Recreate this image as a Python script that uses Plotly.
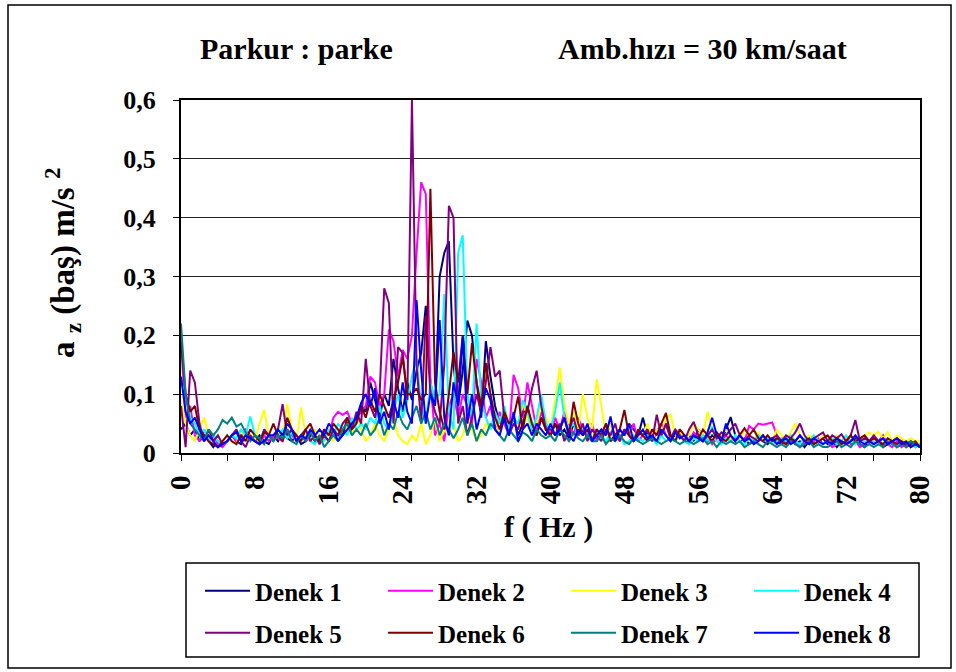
import plotly.graph_objects as go

# Frequency bins (Hz), 0.5 Hz resolution from 0 to 80 Hz
freq = [i * 0.5 for i in range(161)]

series_names = ["Denek 1", "Denek 2", "Denek 3", "Denek 4",
                "Denek 5", "Denek 6", "Denek 7", "Denek 8"]
series_colors = ["#000080", "#FF00FF", "#FFFF00", "#00FFFF",
                 "#800080", "#800000", "#008080", "#0000FF"]

denek1 = [
    0.04, 0.05, 0.03, 0.04, 0.02, 0.03, 0.02, 0.01, 0.02, 0.015,
    0.02, 0.03, 0.02, 0.015, 0.03, 0.025, 0.02, 0.03, 0.02, 0.015,
    0.03, 0.02, 0.035, 0.025, 0.02, 0.03, 0.015, 0.02, 0.03, 0.02,
    0.025, 0.03, 0.02, 0.035, 0.03, 0.04, 0.05, 0.035, 0.06, 0.08,
    0.07, 0.12, 0.09, 0.06, 0.1, 0.08, 0.16, 0.11, 0.07, 0.12,
    0.09, 0.14, 0.17, 0.25, 0.12, 0.08, 0.3, 0.34, 0.36, 0.15,
    0.08, 0.14, 0.225, 0.2, 0.12, 0.06, 0.19, 0.13, 0.08, 0.05,
    0.07, 0.04, 0.06, 0.03, 0.05, 0.08, 0.04, 0.03, 0.06, 0.04,
    0.03, 0.05, 0.03, 0.04, 0.025, 0.05, 0.03, 0.04, 0.03, 0.02,
    0.04, 0.03, 0.05, 0.02, 0.03, 0.04, 0.03, 0.05, 0.04, 0.03,
    0.06, 0.03, 0.02, 0.04, 0.03, 0.05, 0.025, 0.03, 0.04, 0.02,
    0.03, 0.02, 0.04, 0.03, 0.02, 0.03, 0.025, 0.02, 0.04, 0.061,
    0.03, 0.02, 0.025, 0.015, 0.02, 0.03, 0.02, 0.015, 0.025, 0.02,
    0.015, 0.02, 0.025, 0.015, 0.02, 0.01, 0.02, 0.015, 0.02, 0.025,
    0.015, 0.02, 0.01, 0.02, 0.015, 0.02, 0.025, 0.015, 0.01, 0.02,
    0.015, 0.02, 0.01, 0.015, 0.02, 0.01, 0.015, 0.02, 0.01, 0.015,
    0.01,
]

denek2 = [
    0.19, 0.06, 0.08, 0.03, 0.02, 0.04, 0.02, 0.03, 0.015, 0.01,
    0.02, 0.03, 0.02, 0.025, 0.04, 0.03, 0.02, 0.015, 0.03, 0.02,
    0.03, 0.025, 0.02, 0.04, 0.03, 0.02, 0.03, 0.02, 0.025, 0.03,
    0.02, 0.04, 0.03, 0.06, 0.07, 0.065, 0.07, 0.05, 0.06, 0.07,
    0.08, 0.13, 0.12, 0.08, 0.1, 0.21, 0.19, 0.13, 0.175, 0.16,
    0.2, 0.34, 0.46, 0.44, 0.12, 0.03, 0.05, 0.02, 0.08, 0.1,
    0.06, 0.1, 0.08, 0.05, 0.16, 0.12, 0.06, 0.08, 0.04, 0.07,
    0.05, 0.03, 0.133, 0.11, 0.06, 0.12, 0.08, 0.04, 0.07, 0.05,
    0.03, 0.06, 0.04, 0.07, 0.05, 0.03, 0.06, 0.04, 0.03, 0.05,
    0.02, 0.04, 0.03, 0.05, 0.03, 0.02, 0.04, 0.03, 0.05, 0.02,
    0.03, 0.04, 0.02, 0.035, 0.05, 0.03, 0.02, 0.04, 0.025, 0.03,
    0.02, 0.035, 0.025, 0.02, 0.03, 0.015, 0.025, 0.02, 0.03, 0.02,
    0.025, 0.03, 0.02, 0.046, 0.04, 0.05, 0.048, 0.05, 0.052, 0.03,
    0.02, 0.015, 0.025, 0.02, 0.01, 0.02, 0.015, 0.02, 0.025, 0.015,
    0.02, 0.01, 0.015, 0.02, 0.025, 0.015, 0.02, 0.01, 0.015, 0.02,
    0.025, 0.02, 0.03, 0.015, 0.01, 0.02, 0.01, 0.015, 0.02, 0.01,
    0.015,
]

denek3 = [
    0.09, 0.05, 0.03, 0.02, 0.04, 0.06, 0.03, 0.02, 0.01, 0.02,
    0.03, 0.02, 0.015, 0.04, 0.025, 0.03, 0.02, 0.05, 0.073, 0.03,
    0.02, 0.04, 0.03, 0.083, 0.04, 0.02, 0.077, 0.03, 0.02, 0.04,
    0.03, 0.02, 0.035, 0.02, 0.04, 0.03, 0.05, 0.03, 0.07, 0.04,
    0.02, 0.03, 0.05, 0.03, 0.02, 0.04, 0.06, 0.03, 0.02, 0.015,
    0.03, 0.02, 0.05, 0.015, 0.03, 0.06, 0.02, 0.04, 0.03, 0.05,
    0.02, 0.03, 0.06, 0.04, 0.02, 0.03, 0.05, 0.04, 0.06, 0.03,
    0.079, 0.05, 0.06, 0.04, 0.087, 0.06, 0.03, 0.05, 0.08, 0.06,
    0.04, 0.09, 0.145, 0.08, 0.05, 0.07, 0.04, 0.1, 0.06, 0.04,
    0.125, 0.08, 0.03, 0.05, 0.02, 0.04, 0.03, 0.05, 0.02, 0.04,
    0.03, 0.05, 0.02, 0.04, 0.03, 0.06, 0.065, 0.03, 0.04, 0.02,
    0.03, 0.05, 0.04, 0.03, 0.07, 0.04, 0.02, 0.03, 0.04, 0.02,
    0.03, 0.02, 0.04, 0.03, 0.02, 0.035, 0.025, 0.03, 0.02, 0.04,
    0.03, 0.02, 0.035, 0.05, 0.03, 0.02, 0.03, 0.025, 0.02, 0.03,
    0.025, 0.02, 0.03, 0.02, 0.025, 0.03, 0.02, 0.025, 0.03, 0.035,
    0.03, 0.036, 0.025, 0.035, 0.02, 0.03, 0.025, 0.02, 0.025, 0.02,
    0.02,
]

denek4 = [
    0.12, 0.1, 0.06, 0.05, 0.03, 0.04, 0.02, 0.03, 0.02, 0.015,
    0.02, 0.03, 0.025, 0.04, 0.03, 0.062, 0.03, 0.02, 0.04, 0.03,
    0.02, 0.03, 0.04, 0.025, 0.035, 0.02, 0.03, 0.04, 0.02, 0.015,
    0.03, 0.02, 0.04, 0.03, 0.05, 0.04, 0.03, 0.06, 0.04, 0.05,
    0.04, 0.06, 0.05, 0.08, 0.05, 0.04, 0.07, 0.1, 0.06, 0.09,
    0.13, 0.16, 0.08, 0.05, 0.12, 0.09, 0.1, 0.27, 0.07, 0.04,
    0.34, 0.37, 0.1, 0.06, 0.22, 0.09, 0.06, 0.04, 0.07, 0.05,
    0.08, 0.04, 0.06, 0.05, 0.09, 0.07, 0.04, 0.06, 0.1, 0.05,
    0.04, 0.07, 0.12, 0.06, 0.04, 0.05, 0.03, 0.045, 0.03, 0.02,
    0.04, 0.03, 0.02, 0.035, 0.025, 0.03, 0.015, 0.02, 0.03, 0.025,
    0.02, 0.03, 0.025, 0.015, 0.03, 0.02, 0.025, 0.02, 0.03, 0.02,
    0.015, 0.025, 0.02, 0.03, 0.02, 0.045, 0.02, 0.015, 0.025, 0.02,
    0.03, 0.02, 0.015, 0.025, 0.02, 0.03, 0.02, 0.025, 0.015, 0.02,
    0.025, 0.02, 0.03, 0.02, 0.015, 0.025, 0.02, 0.03, 0.02, 0.015,
    0.02, 0.025, 0.015, 0.02, 0.03, 0.02, 0.015, 0.025, 0.02, 0.015,
    0.02, 0.015, 0.025, 0.02, 0.015, 0.01, 0.02, 0.015, 0.02, 0.01,
    0.015,
]

denek5 = [
    0.08, 0.01, 0.14, 0.12, 0.05, 0.02, 0.04, 0.02, 0.03, 0.015,
    0.02, 0.03, 0.04, 0.02, 0.01, 0.03, 0.02, 0.015, 0.04, 0.03,
    0.02, 0.04, 0.083, 0.03, 0.04, 0.02, 0.03, 0.04, 0.02, 0.03,
    0.015, 0.03, 0.02, 0.04, 0.03, 0.05, 0.06, 0.04, 0.07, 0.05,
    0.16, 0.08, 0.06, 0.1, 0.28, 0.255, 0.05, 0.18, 0.17, 0.09,
    0.6, 0.15, 0.05, 0.233, 0.1, 0.07, 0.05, 0.15, 0.42, 0.4,
    0.05, 0.08, 0.03, 0.06, 0.1, 0.07, 0.12, 0.18, 0.13, 0.14,
    0.06, 0.03, 0.05, 0.04, 0.07, 0.07, 0.11, 0.14, 0.08, 0.04,
    0.04, 0.03, 0.05, 0.02, 0.04, 0.06, 0.03, 0.05, 0.02, 0.04,
    0.03, 0.02, 0.04, 0.03, 0.05, 0.02, 0.04, 0.03, 0.02, 0.035,
    0.03, 0.04, 0.02, 0.065, 0.03, 0.05, 0.025, 0.04, 0.03, 0.02,
    0.04, 0.053, 0.03, 0.02, 0.03, 0.04, 0.025, 0.035, 0.03, 0.04,
    0.05, 0.03, 0.02, 0.03, 0.025, 0.02, 0.03, 0.02, 0.025, 0.03,
    0.02, 0.03, 0.025, 0.035, 0.05, 0.03, 0.02, 0.025, 0.03, 0.035,
    0.02, 0.03, 0.025, 0.032, 0.02, 0.03, 0.056, 0.02, 0.025, 0.02,
    0.03, 0.02, 0.025, 0.015, 0.02, 0.025, 0.02, 0.015, 0.02, 0.015,
    0.01,
]

denek6 = [
    0.19, 0.1, 0.07, 0.08, 0.04, 0.03, 0.02, 0.015, 0.01, 0.02,
    0.03, 0.02, 0.015, 0.03, 0.02, 0.04, 0.03, 0.02, 0.035, 0.03,
    0.05, 0.03, 0.02, 0.06, 0.04, 0.03, 0.02, 0.04, 0.05, 0.03,
    0.02, 0.04, 0.03, 0.05, 0.04, 0.03, 0.06, 0.04, 0.05, 0.08,
    0.06, 0.09, 0.07, 0.1, 0.08, 0.06, 0.09, 0.12, 0.163, 0.1,
    0.1, 0.11, 0.09, 0.1, 0.449, 0.12, 0.07, 0.04, 0.1, 0.172,
    0.12, 0.2, 0.1, 0.187, 0.12, 0.08, 0.153, 0.1, 0.06, 0.04,
    0.07, 0.05, 0.06, 0.096, 0.04, 0.08, 0.05, 0.03, 0.06, 0.04,
    0.03, 0.05, 0.04, 0.06, 0.03, 0.087, 0.05, 0.03, 0.04, 0.02,
    0.04, 0.03, 0.05, 0.02, 0.03, 0.04, 0.073, 0.03, 0.02, 0.04,
    0.03, 0.02, 0.04, 0.03, 0.05, 0.068, 0.03, 0.02, 0.04, 0.03,
    0.02, 0.03, 0.025, 0.04, 0.03, 0.02, 0.035, 0.025, 0.02, 0.03,
    0.02, 0.03, 0.042, 0.03, 0.04, 0.025, 0.02, 0.03, 0.02, 0.025,
    0.02, 0.015, 0.025, 0.02, 0.03, 0.02, 0.025, 0.015, 0.02, 0.025,
    0.03, 0.02, 0.025, 0.015, 0.02, 0.03, 0.02, 0.025, 0.03, 0.02,
    0.025, 0.02, 0.015, 0.025, 0.02, 0.015, 0.02, 0.01, 0.015, 0.02,
    0.01,
]

denek7 = [
    0.22, 0.1, 0.05, 0.04, 0.03, 0.02, 0.04, 0.03, 0.04, 0.056,
    0.05, 0.06, 0.045, 0.05, 0.035, 0.02, 0.03, 0.025, 0.015, 0.03,
    0.02, 0.03, 0.025, 0.04, 0.02, 0.015, 0.03, 0.02, 0.035, 0.02,
    0.03, 0.01, 0.02, 0.03, 0.02, 0.04, 0.05, 0.03, 0.04, 0.03,
    0.05, 0.03, 0.04, 0.06, 0.03, 0.05, 0.04, 0.07, 0.05, 0.04,
    0.06, 0.08, 0.05, 0.07, 0.04, 0.06, 0.03, 0.05, 0.04, 0.025,
    0.04, 0.06, 0.03, 0.05, 0.02, 0.04, 0.03, 0.05, 0.04, 0.03,
    0.02, 0.04, 0.03, 0.02, 0.035, 0.03, 0.02, 0.04, 0.03, 0.025,
    0.03, 0.02, 0.04, 0.03, 0.02, 0.035, 0.025, 0.02, 0.03, 0.02,
    0.02, 0.03, 0.015, 0.025, 0.02, 0.03, 0.02, 0.015, 0.025, 0.02,
    0.015, 0.02, 0.025, 0.02, 0.015, 0.02, 0.025, 0.02, 0.015, 0.02,
    0.02, 0.015, 0.02, 0.025, 0.015, 0.02, 0.01, 0.02, 0.015, 0.02,
    0.015, 0.02, 0.01, 0.015, 0.02, 0.015, 0.01, 0.02, 0.015, 0.01,
    0.015, 0.01, 0.02, 0.015, 0.01, 0.015, 0.02, 0.01, 0.015, 0.01,
    0.01, 0.015, 0.02, 0.01, 0.015, 0.01, 0.02, 0.015, 0.01, 0.015,
    0.01, 0.015, 0.01, 0.02, 0.015, 0.01, 0.015, 0.01, 0.02, 0.015,
    0.01,
]

denek8 = [
    0.13, 0.07, 0.05, 0.06, 0.04, 0.02, 0.03, 0.02, 0.01, 0.015,
    0.02, 0.03, 0.035, 0.02, 0.03, 0.025, 0.02, 0.015, 0.02, 0.03,
    0.03, 0.04, 0.03, 0.05, 0.04, 0.02, 0.03, 0.025, 0.04, 0.03,
    0.04, 0.03, 0.05, 0.04, 0.02, 0.03, 0.04, 0.05, 0.06, 0.085,
    0.1, 0.08, 0.11, 0.05, 0.07, 0.04, 0.09, 0.06, 0.12, 0.07,
    0.05, 0.26, 0.14, 0.05, 0.1, 0.08, 0.226, 0.06, 0.03, 0.12,
    0.08, 0.198, 0.05, 0.1, 0.04, 0.07, 0.11, 0.09, 0.04, 0.03,
    0.06, 0.03, 0.07, 0.02, 0.04, 0.05, 0.03, 0.05, 0.04, 0.03,
    0.05, 0.03, 0.04, 0.06, 0.03, 0.02, 0.04, 0.03, 0.05, 0.02,
    0.03, 0.04, 0.03, 0.062, 0.02, 0.04, 0.03, 0.05, 0.02, 0.03,
    0.04, 0.025, 0.03, 0.02, 0.04, 0.03, 0.02, 0.035, 0.025, 0.03,
    0.02, 0.03, 0.025, 0.02, 0.035, 0.06, 0.03, 0.02, 0.05, 0.03,
    0.02, 0.03, 0.02, 0.025, 0.015, 0.02, 0.03, 0.02, 0.025, 0.015,
    0.02, 0.025, 0.015, 0.02, 0.03, 0.02, 0.015, 0.025, 0.02, 0.015,
    0.02, 0.015, 0.025, 0.02, 0.015, 0.02, 0.03, 0.02, 0.015, 0.02,
    0.015, 0.02, 0.025, 0.015, 0.02, 0.025, 0.015, 0.02, 0.01, 0.015,
    0.01,
]

series_values = [denek1, denek2, denek3, denek4, denek5, denek6, denek7, denek8]

y_tick_vals = [0, 0.1, 0.2, 0.3, 0.4, 0.5, 0.6]
y_tick_text = ["0", "0,1", "0,2", "0,3", "0,4", "0,5", "0,6"]
x_label_vals = [0, 8, 16, 24, 32, 40, 48, 56, 64, 72, 80]
x_mark_vals = list(range(0, 81, 5))

# Figure geometry in pixels
W, H = 956, 672
PL, PR, PT, PB = 181, 920, 100, 453


def fx(px):
    return (px - PL) / (PR - PL)


def fy(py):
    return (PB - py) / (PB - PT)


SERIF = "Liberation Serif"
BLACK = "#000000"

fig = go.Figure()
for i, (name, color, vals) in enumerate(zip(series_names, series_colors, series_values)):
    first_row = i < 4
    fig.add_trace(go.Scatter(
        x=freq, y=vals, mode="lines", name=name,
        line=dict(color=color, width=2),
        # second half of the series share the labelled overlay x-axis
        xaxis="x" if first_row else "x2",
        legend="legend" if first_row else "legend2",
    ))

legend_common = dict(
    orientation="h", xanchor="left", yanchor="middle",
    xref="container", yref="container",
    font=dict(family=SERIF, size=25, color=BLACK, weight="bold"),
    bgcolor="rgba(0,0,0,0)", borderwidth=0,
    entrywidth=123, entrywidthmode="pixels", itemwidth=45,
    traceorder="normal",
)

fig.update_layout(
    width=W, height=H,
    margin=dict(l=PL, r=W - PR, t=PT, b=H - PB, pad=0),
    paper_bgcolor="white", plot_bgcolor="white",
    showlegend=True,
    legend=dict(x=200 / W, y=1 - 591 / H, **legend_common),
    legend2=dict(x=200 / W, y=1 - 633 / H, **legend_common),
    xaxis=dict(
        range=[0, 80], tickmode="array", tickvals=x_mark_vals,
        showticklabels=False, ticks="outside", ticklen=6, tickwidth=1,
        tickcolor=BLACK, showgrid=False, zeroline=False,
        showline=True, linecolor=BLACK, linewidth=2, mirror=True,
    ),
    xaxis2=dict(
        range=[0, 80], overlaying="x", anchor="y", side="bottom",
        tickmode="array", tickvals=x_label_vals,
        ticktext=[str(v) for v in x_label_vals],
        ticks="outside", ticklen=10, tickcolor="rgba(0,0,0,0)",
        tickangle=-90, showgrid=False, zeroline=False, showline=False,
        tickfont=dict(family=SERIF, size=29, color=BLACK, weight="bold"),
    ),
    yaxis=dict(
        range=[0, 0.6], tickmode="array", tickvals=y_tick_vals,
        ticktext=y_tick_text, ticks="outside", ticklen=6, tickwidth=1,
        tickcolor=BLACK, ticklabelstandoff=12,
        showgrid=True, gridcolor="#222222", gridwidth=1, zeroline=False,
        showline=True, linecolor=BLACK, linewidth=2, mirror=True,
        tickfont=dict(family=SERIF, size=26, color=BLACK, weight="bold"),
    ),
    shapes=[
        # outer chart frame
        dict(type="rect", xref="paper", yref="paper",
             x0=fx(8), x1=fx(951), y0=fy(668), y1=fy(5),
             line=dict(color=BLACK, width=1.5), fillcolor="rgba(0,0,0,0)",
             layer="below"),
        # legend frame
        dict(type="rect", xref="paper", yref="paper",
             x0=fx(186), x1=fx(919), y0=fy(657), y1=fy(563),
             line=dict(color=BLACK, width=1.5), fillcolor="rgba(0,0,0,0)"),
    ],
    annotations=[
        dict(text="Parkur : parke", xref="paper", yref="paper",
             x=fx(296), y=fy(48), showarrow=False,
             xanchor="center", yanchor="middle",
             font=dict(family=SERIF, size=30, color=BLACK, weight="bold")),
        dict(text="Amb.hızı = 30 km/saat", xref="paper", yref="paper",
             x=fx(702), y=fy(48), showarrow=False,
             xanchor="center", yanchor="middle",
             font=dict(family=SERIF, size=30, color=BLACK, weight="bold")),
        dict(text="f ( Hz )", xref="paper", yref="paper",
             x=fx(548), y=fy(527), showarrow=False,
             xanchor="center", yanchor="middle",
             font=dict(family=SERIF, size=30, color=BLACK, weight="bold")),
        dict(text="a <sub>z</sub> (baş) m/s <sup>2</sup>", xref="paper", yref="paper",
             x=fx(62), y=fy(263), showarrow=False, textangle=-90,
             xanchor="center", yanchor="middle",
             font=dict(family=SERIF, size=33, color=BLACK, weight="bold")),
    ],
)

fig.write_html("out.html")
